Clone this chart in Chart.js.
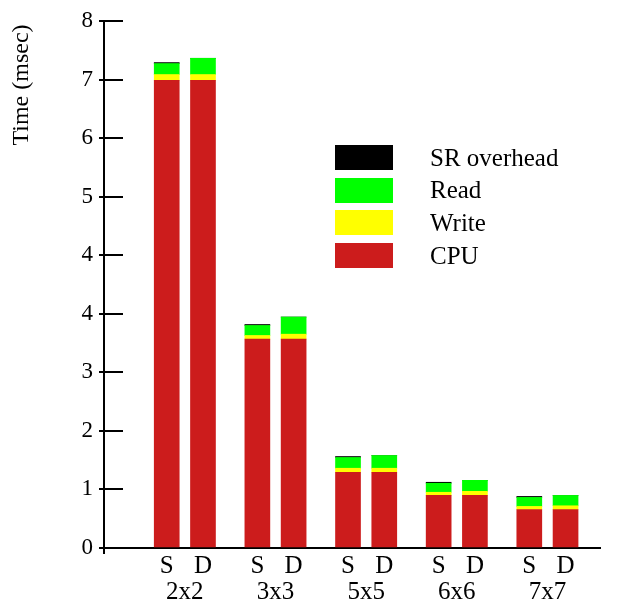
<!DOCTYPE html>
<html>
<head>
<meta charset="utf-8">
<script src="https://cdn.jsdelivr.net/npm/chart.js@4.4.1/dist/chart.umd.min.js"></script>
<style>
  body { margin: 0; background: #fff; }
  #wrap { position: relative; width: 626px; height: 601px; }
  #legend { position: absolute; left: 335px; top: 145px; font: 25px "Liberation Serif", serif; color: #000; }
  .item { display: flex; align-items: center; height: 25px; margin-bottom: 7.7px; }
  .box { width: 58px; height: 25px; margin-right: 37px; }
</style>
</head>
<body>
<div id="wrap">
  <canvas id="chart" width="626" height="601"></canvas>
  <div id="legend"></div>
</div>
<script>
// data
const groups = ['2x2', '3x3', '5x5', '6x6', '7x7'];
const barLabels = ['S', 'D', 'S', 'D', 'S', 'D', 'S', 'D', 'S', 'D'];
const barX = [0, 1, 2.5, 3.5, 5, 6, 7.5, 8.5, 10, 11];
const groupX = [0.5, 3, 5.5, 8, 10.5];

const cpu   = [7.10, 7.10, 3.17, 3.17, 1.15, 1.15, 0.80, 0.80, 0.585, 0.585];
const write = [0.087, 0.087, 0.056, 0.076, 0.061, 0.061, 0.046, 0.060, 0.046, 0.056];
const read  = [0.167, 0.247, 0.152, 0.26, 0.163, 0.193, 0.137, 0.167, 0.137, 0.157];
const srOverhead = [0.015, 0, 0.015, 0, 0.015, 0, 0.015, 0, 0.015, 0];

// the original axis has 9 equal steps from 0 to 8, labels rounded
const yTickLabels = ['0', '1', '2', '3', '4', '4', '5', '6', '7', '8'];
const yMax = 8;
const yTitle = 'Time (msec)';

const serif = '"Liberation Serif", "Times New Roman", serif';
const toPoints = arr => barX.map((x, i) => ({ x: x, y: arr[i] }));

const datasets = [
    { label: 'CPU', data: toPoints(cpu), backgroundColor: '#cc1c1c' },
    { label: 'Write', data: toPoints(write), backgroundColor: '#ffff00' },
    { label: 'Read', data: toPoints(read), backgroundColor: '#00ff00' },
    { label: 'SR overhead', data: toPoints(srOverhead), backgroundColor: '#000000' }
];

const axisDecor = {
    id: 'axisDecor',
    afterDraw(chart) {
        const { ctx, chartArea, scales: { y } } = chart;
        ctx.save();
        ctx.strokeStyle = '#000';
        ctx.lineWidth = 2;
        ctx.beginPath();
        y.ticks.forEach(t => {
            const py = Math.round(y.getPixelForValue(t.value));
            ctx.moveTo(chartArea.left, py);
            ctx.lineTo(chartArea.left + 19, py);
        });
        ctx.moveTo(chartArea.left, chartArea.bottom);
        ctx.lineTo(chartArea.left, chartArea.bottom + 6);
        ctx.stroke();

        ctx.translate(22, 85);
        ctx.rotate(-Math.PI / 2);
        ctx.font = '24px ' + serif;
        ctx.fillStyle = '#000';
        ctx.textAlign = 'center';
        ctx.textBaseline = 'middle';
        ctx.fillText(yTitle, 0, 0);
        ctx.restore();
    }
};

const chart = new Chart(document.getElementById('chart'), {
    type: 'bar',
    data: { datasets: datasets },
    plugins: [axisDecor],
    options: {
        responsive: false,
        animation: false,
        devicePixelRatio: 1,
        layout: { padding: { top: 21, right: 26, left: 5, bottom: 0 } },
        datasets: { bar: { barThickness: 25, borderWidth: 0 } },
        plugins: { legend: { display: false }, tooltip: { enabled: false } },
        scales: {
            x: {
                type: 'linear', position: 'bottom', stacked: true, offset: false,
                min: -1.73, max: 11.95,
                afterBuildTicks: s => { s.ticks = barX.map(v => ({ value: v })); },
                afterFit: s => { s.height = 27; },
                ticks: { callback: (v, i) => barLabels[i], autoSkip: false, maxRotation: 0, padding: 3, color: '#000', font: { family: serif, size: 25 } },
                grid: { display: false, drawTicks: false, offset: false },
                border: { color: '#000', width: 2 }
            },
            x2: {
                type: 'linear', position: 'bottom', offset: false,
                min: -1.73, max: 11.95,
                afterBuildTicks: s => { s.ticks = groupX.map(v => ({ value: v })); },
                afterFit: s => { s.height = 26; },
                ticks: { callback: (v, i) => groups[i], autoSkip: false, maxRotation: 0, padding: 2, color: '#000', font: { family: serif, size: 25 } },
                grid: { display: false, drawTicks: false, offset: false },
                border: { display: false }
            },
            y: {
                stacked: true, min: 0, max: yMax,
                afterBuildTicks: s => { s.ticks = yTickLabels.map((_, i) => ({ value: i * yMax / (yTickLabels.length - 1) })); },
                afterFit: s => { s.width = 99; },
                ticks: { callback: (v, i) => yTickLabels[i], autoSkip: false, padding: 6, color: '#000', font: { family: serif, size: 23 } },
                grid: { drawOnChartArea: false, tickLength: 5, color: '#000', lineWidth: 2 },
                border: { color: '#000', width: 2 }
            }
        }
    }
});

// legend, top entry first
const legend = document.getElementById('legend');
datasets.slice().reverse().forEach(ds => {
    legend.innerHTML += `<div class="item"><div class="box" style="background:${ds.backgroundColor}"></div><span>${ds.label}</span></div>`;
});
</script>
</body>
</html>
